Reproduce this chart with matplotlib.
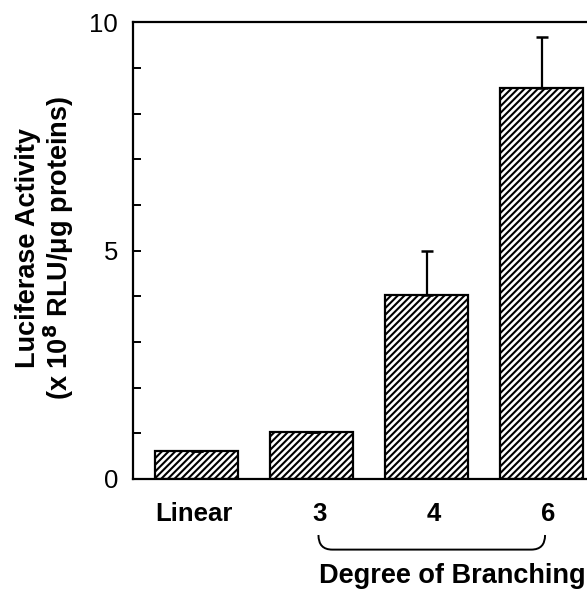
import numpy as np
import matplotlib
matplotlib.use("Agg")
import matplotlib.pyplot as plt
from matplotlib.path import Path
from matplotlib.patches import PathPatch
import matplotlib.transforms as mtransforms

# ---- Data ----
categories = ["Linear", "3", "4", "6"]
activity = [0.62, 1.03, 4.03, 8.56]
err_up = [0.0, 0.0, 0.97, 1.11]

plt.rcParams["hatch.linewidth"] = 1.5
plt.rcParams["font.family"] = ["Liberation Sans", "DejaVu Sans"]

fig = plt.figure(figsize=(5.87, 5.89), dpi=100)
ax = fig.add_axes([0.227, 0.187, 0.778, 0.775])

x = np.arange(len(categories))
ax.bar(x, activity, width=0.72, color="white", edgecolor="black",
       linewidth=1.6, hatch="/////", zorder=2)
ax.errorbar(x, activity, yerr=[np.zeros(len(err_up)), err_up], fmt="none",
            ecolor="black", elinewidth=1.6, capsize=4.5, capthick=1.8, zorder=3)

ax.set_xlim(-0.55, 3.42)
ax.set_ylim(0, 10)
ax.spines["right"].set_visible(False)
for s in ["left", "top", "bottom"]:
    ax.spines[s].set_linewidth(1.6)

ax.set_yticks([0, 5, 10])
ax.set_yticklabels(["0", "5", "10"], fontsize=18.5)
ax.set_yticks(np.arange(0, 11, 1), minor=True)
ax.tick_params(axis="y", which="both", direction="in", length=6, width=1.4, pad=11)
ax.tick_params(axis="x", length=0, pad=17)
ax.set_xticks(x + np.array([-0.02, 0.07, 0.06, 0.06]))
ax.set_xticklabels(categories, fontsize=18.5, fontweight="bold")

ax.set_ylabel("Luciferase Activity\n(x 10$^\\mathbf{8}$ RLU/\u03bcg proteins)",
              fontsize=19.5, fontweight="bold", linespacing=1.0)
ax.yaxis.set_label_coords(-0.126, 0.505)

# brace under branching groups
trans = mtransforms.blended_transform_factory(ax.transData, ax.transAxes)
x0, x1 = 1.06, 3.03
ytop, ybot = -0.123, -0.155
verts = [(x0, ytop), (x0, ybot), (x0 + 0.12, ybot),
         (x1 - 0.12, ybot), (x1, ybot), (x1, ytop)]
codes = [Path.MOVETO, Path.CURVE3, Path.CURVE3,
         Path.LINETO, Path.CURVE3, Path.CURVE3]
ax.add_patch(PathPatch(Path(verts, codes), transform=trans, fill=False,
                       lw=1.4, color="black", clip_on=False))
ax.text(2.22, -0.241, "Degree of Branching", transform=trans, ha="center",
        va="bottom", fontsize=19.5, fontweight="bold")

fig.savefig("out.png", dpi=100)
